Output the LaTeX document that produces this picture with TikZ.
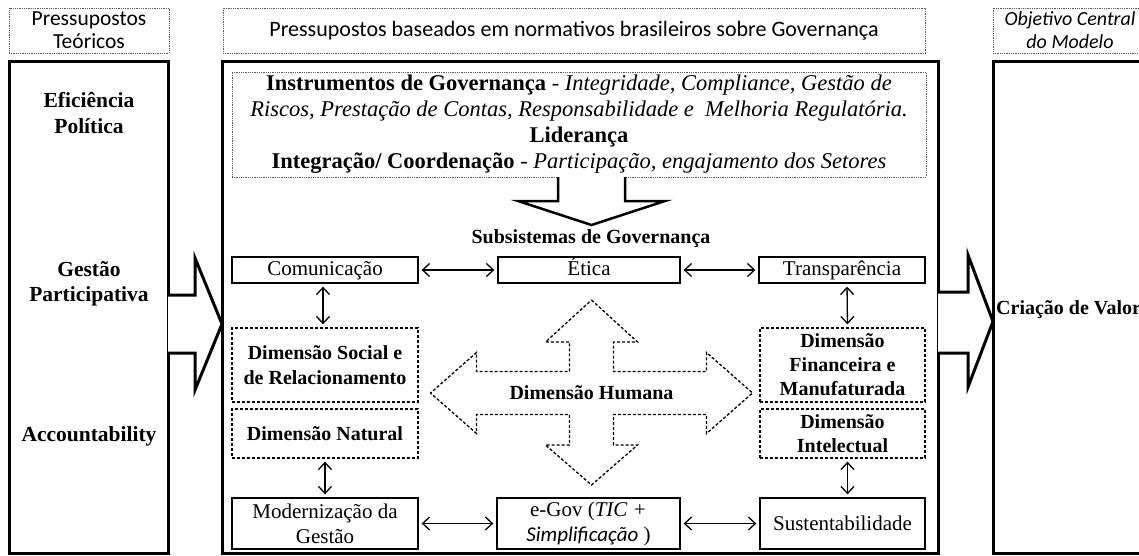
\documentclass[tikz,border=0pt]{standalone}
\usepackage{fontspec}
\setmainfont{Liberation Serif}
\newfontfamily\calibri{Carlito}
\usetikzlibrary{arrows.meta}
\tikzset{
  hdrbox/.style={draw=black!65, dash pattern=on 0.9pt off 0.9pt, line width=0.9pt, inner sep=0pt, align=center,
    font=\calibri\fontsize{21.5}{23}\selectfont},
  bigbox/.style={draw=black, line width=3pt, inner sep=0pt},
  solidbox/.style={draw=black, line width=1.3pt, inner sep=0pt, align=center, font=\fontsize{21}{25}\selectfont},
  dashbox/.style={draw=black, line width=1.3pt, dash pattern=on 3pt off 2pt, inner sep=0pt, align=center,
    font=\bfseries\fontsize{20}{25}\selectfont},
  dotbox/.style={draw=black!65, dash pattern=on 0.9pt off 0.9pt, line width=0.9pt, inner sep=0pt, align=center,
    font=\fontsize{22.5}{26}\selectfont},
  lbl/.style={inner sep=0pt, align=center, font=\bfseries\fontsize{20}{25.5}\selectfont},
  sidelbl/.style={inner sep=0pt, align=center, font=\bfseries\fontsize{21.5}{25.5}\selectfont},
  dbl/.style={line width=1.3pt, {Straight Barb[length=7pt,width=13pt,line width=1.3pt]}-{Straight Barb[length=7pt,width=13pt,line width=1.3pt]}, shorten <=3pt, shorten >=3pt},
  blockarrow/.style={draw=black, line width=3pt, fill=white, line join=miter},
  humanarrow/.style={draw=black, line width=1.3pt, dash pattern=on 3pt off 2pt, fill=white, line join=miter}
}
\begin{document}
\begin{tikzpicture}[x=1pt,y=-1pt]
\useasboundingbox (0,0) rectangle (1139,556);
\clip (0,0) rectangle (1139,556);
\fill[white] (0,0) rectangle (1139,556);

% headers
\node[hdrbox, minimum width=160, minimum height=45] (hdrL) at (89,30.5) {Pressupostos\\Teóricos};
\node[hdrbox, minimum width=702, minimum height=45, font=\calibri\fontsize{22}{23}\selectfont] (hdrC) at (574,30.5) {Pressupostos baseados em normativos brasileiros sobre Governança};
\node[hdrbox, minimum width=154, minimum height=45, font=\calibri\itshape\fontsize{20}{23}\selectfont] (hdrR) at (1070,30.5) {Objetivo Central\\do Modelo};

% main boxes
\node[bigbox, minimum width=159, minimum height=491] (boxL) at (88.5,307.5) {};
\node[bigbox, minimum width=716, minimum height=491] (boxC) at (580,307.5) {};
\node[bigbox, minimum width=160, minimum height=491] (boxR) at (1073,307.5) {};

% left texts
\node[sidelbl] (efi) at (89,113) {Eficiência\\Política};
\node[sidelbl] (gest) at (89,284) {Gestão\\Participativa};
\node[sidelbl] (acc) at (89,436) {Accountability};

% right text
\node[sidelbl, anchor=west, font=\bfseries\fontsize{20}{25}\selectfont] (cri) at (996,310) {Criação de Valor};

% block arrows between columns
\draw[blockarrow] (168,295) -- (195,295) -- (195,258) -- (222,324) -- (195,390) -- (195,353) -- (168,353);
\draw[blockarrow] (938,292) -- (968,292) -- (968,255) -- (993,321.5) -- (968,387) -- (968,353) -- (938,353);

% instruments box
\node[dotbox, minimum width=694, minimum height=105] (instr) at (579,124.5)
  {\textbf{Instrumentos de Governança} - \textit{Integridade, Compliance, Gestão de}\\
   \textit{Riscos, Prestação de Contas, Responsabilidade e~ Melhoria Regulatória.}\\
   \textbf{Liderança}\\
   \textbf{Integração/ Coordenação} - \textit{Participação, engajamento dos Setores}};

% down block arrow
\draw[blockarrow, line width=2.5pt] (558,177) -- (558,201) -- (518,201) -- (591.5,225) -- (665,201) -- (625,201) -- (625,177);

\node[lbl] (sub) at (591,239) {Subsistemas de Governança};

% row 1
\node[solidbox, minimum width=186, minimum height=26, text height=14pt, text depth=4pt] (com) at (325,270) {Comunicação};
\node[solidbox, minimum width=182, minimum height=26, text height=14pt, text depth=4pt] (eti) at (589,270) {Ética};
\node[solidbox, minimum width=166, minimum height=26, text height=14pt, text depth=4pt] (tra) at (842,270) {Transparência};

% dimension boxes
\node[dashbox, minimum width=186, minimum height=74] (soc) at (325,365) {Dimensão Social e\\de Relacionamento};
\node[dashbox, minimum width=186, minimum height=49] (nat) at (325,433.5) {Dimensão Natural};
\node[dashbox, minimum width=165, minimum height=74, font=\bfseries\fontsize{20}{24}\selectfont] (fin) at (842.5,365) {Dimensão\\Financeira e\\Manufaturada};
\node[dashbox, minimum width=165, minimum height=49, font=\bfseries\fontsize{20}{24}\selectfont] (int) at (842.5,433.5) {Dimensão\\Intelectual};

% bottom row
\node[solidbox, minimum width=186, minimum height=51] (mod) at (325,523.5) {Modernização da\\Gestão};
\node[solidbox, minimum width=183, minimum height=51] (egov) at (588.5,523.5) {e-Gov (\textit{TIC +}\\{\calibri\itshape Simplificação} )};
\node[solidbox, minimum width=165, minimum height=51] (sus) at (842.5,523.5) {Sustentabilidade};

% four-way dashed arrow
\coordinate (hc) at (591.5,393);
\draw[humanarrow, shift={(591.5,393)}]
  (0,-93) -- (46,-51) -- (22,-51) -- (22,-21.5) -- (115,-21.5) -- (115,-40.5) -- (161,0)
  -- (115,40.5) -- (115,21.5) -- (22,21.5) -- (22,52) -- (46,52) -- (0,92) -- (-46,52)
  -- (-22,52) -- (-22,21.5) -- (-115,21.5) -- (-115,40.5) -- (-161,0) -- (-115,-40.5)
  -- (-115,-21.5) -- (-22,-21.5) -- (-22,-51) -- (-46,-51) -- cycle;
\node[lbl] (hum) at (hc) {Dimensão Humana};

% connectors
\draw[dbl] (com.east) -- (eti.west);
\draw[dbl] (eti.east) -- (tra.west);
\draw[dbl] ([xshift=-2]com.south) -- ([xshift=-2]soc.north);
\draw[dbl] ([xshift=5]tra.south) -- ([xshift=5]fin.north);
\draw[dbl] (nat.south) -- (mod.north);
\draw[dbl] ([xshift=5]int.south) -- ([xshift=5]sus.north);
\draw[dbl] (mod.east) -- (egov.west);
\draw[dbl] (egov.east) -- (sus.west);
\end{tikzpicture}
\end{document}
